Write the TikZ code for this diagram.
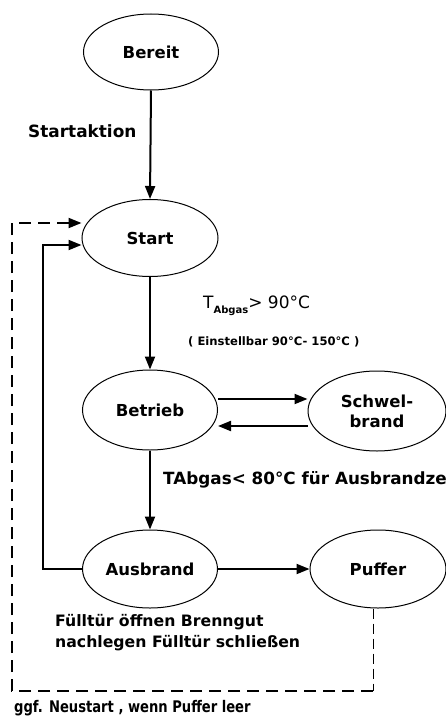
\documentclass[tikz,border=0pt]{standalone}
\usepackage{fontspec}
\setmainfont{DejaVu Sans}
\usetikzlibrary{shapes.geometric,arrows.meta}
\begin{document}
\begin{tikzpicture}[x=1pt,y=-1pt,
  state/.style={draw,ellipse,line width=1pt,inner sep=0pt,font=\fontsize{16.5}{20}\selectfont\bfseries,align=center},
  lbl/.style={font=\fontsize{15.7}{21}\selectfont\bfseries,inner sep=0pt,align=left},
  arr/.style={line width=2pt,-{Triangle[length=13pt,width=10pt]}},
  dsh/.style={line width=2pt,dash pattern=on 12pt off 7pt,-{Triangle[length=13pt,width=10pt]}},
  thindsh/.style={line width=1pt,dash pattern=on 10pt off 5pt}]
\useasboundingbox (0,0) rectangle (446,717);
\node[state,minimum width=135pt,minimum height=76pt] (bereit) at (151,52) {Bereit};
\node[state,minimum width=136pt,minimum height=77pt] (start) at (150,238) {Start};
\node[state,minimum width=135pt,minimum height=80pt] (betrieb) at (150,410) {Betrieb};
\node[state,minimum width=138pt,minimum height=80pt] (schwel) at (377,411) {Schwel-\\brand};
\node[state,minimum width=135pt,minimum height=78pt] (ausbrand) at (150,569) {Ausbrand};
\node[state,minimum width=136pt,minimum height=78pt] (puffer) at (378,569) {Puffer};

\draw[arr] (bereit.south) -- (start.north);
\draw[arr] (start.south) -- (betrieb.north);
\draw[arr] (betrieb.south) -- (ausbrand.north);
\draw[arr] (betrieb.east |- 0,399) -- (schwel.west |- 0,399);
\draw[arr] (schwel.west |- 0,426) -- (betrieb.east |- 0,426);
\draw[arr] (ausbrand.east) -- (puffer.west);
\coordinate (c1) at (43,569);
\coordinate (c2) at (43,245);
\draw[arr] (ausbrand.west) -- (c1) -- (c2) -- (start.west |- c2);
\coordinate (d0) at (373,691);
\coordinate (d1) at (12,691);
\coordinate (d2) at (12,223);
\draw[thindsh] (puffer.south -| d0) -- (d0);
\draw[dsh] (d0) -- (d1) -- (d2) -- (start.west |- d2);

\node[lbl,anchor=west,font=\fontsize{16.9}{20}\selectfont\bfseries] (sa) at (28,131) {Startaktion};
\node[anchor=west,inner sep=0pt] (t1) at (203,306) {\fontsize{17}{20}\selectfont T\raisebox{-0.5ex}{\fontsize{10}{12}\selectfont\bfseries Abgas}> 90°C};
\node[anchor=west,inner sep=0pt,font=\fontsize{11.6}{13}\selectfont\bfseries] (t2) at (188,342) {( Einstellbar 90°C- 150°C )};
\node[lbl,anchor=west,font=\fontsize{16.8}{20}\selectfont\bfseries] (t3) at (163,480) {TAbgas< 80°C für Ausbrandze};
\node[lbl,anchor=north west] (t4) at (55,614) {Fülltür öffnen Brenngut\\nachlegen Fülltür schließen};
\node[lbl,anchor=west,font=\fontsize{16}{18}\selectfont\bfseries] (t5) at (14,708) {\scalebox{0.82}[1]{ggf. Neustart , wenn Puffer leer}};
\end{tikzpicture}
\end{document}
